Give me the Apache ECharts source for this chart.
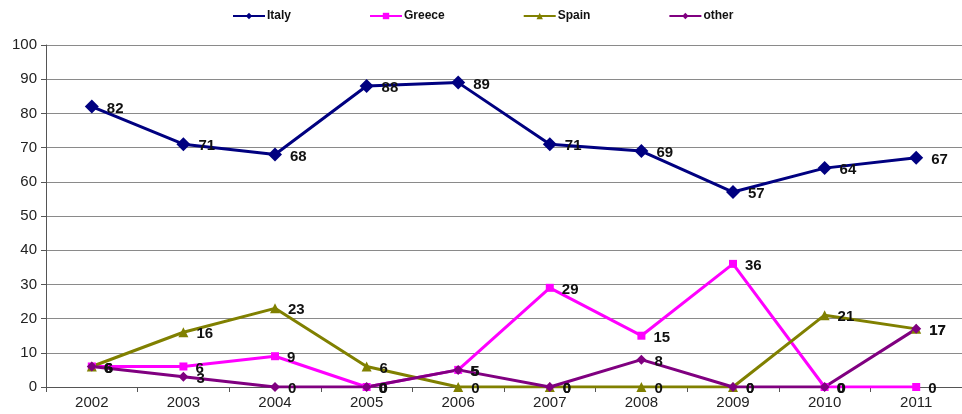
<!DOCTYPE html>
<html>
<head>
<meta charset="utf-8">
<script src="https://cdn.jsdelivr.net/npm/echarts@6/dist/echarts.min.js"></script>
<style>
  html, body { margin: 0; padding: 0; background: #fff; }
  #chart { width: 962px; height: 414px; }
</style>
</head>
<body>
<div id="chart"></div>
<script>
// Years on the category axis
const years = ['2002', '2003', '2004', '2005', '2006', '2007', '2008', '2009', '2010', '2011'];

// Share per country (%)
const italy  = [82, 71, 68, 88, 89, 71, 69, 57, 64, 67];
const greece = [6, 6, 9, 0, 5, 29, 15, 36, 0, 0];
const spain  = [6, 16, 23, 6, 0, 0, 0, 0, 21, 17];
const other  = [6, 3, 0, 0, 5, 0, 8, 0, 0, 17];

// Value axis ticks
const yTicks = [0, 10, 20, 30, 40, 50, 60, 70, 80, 90, 100];

const FONT = '"Liberation Sans", Arial, sans-serif';

function lineSeries(name, data, color, symbol, size, width) {
  return {
    name: name,
    type: 'line',
    data: data,
    symbol: symbol,
    symbolSize: size,
    lineStyle: { color: color, width: width },
    itemStyle: { color: color },
    label: {
      show: true,
      position: 'right',
      distance: 8,
      offset: [0, 2],
      color: '#111',
      fontFamily: FONT,
      fontWeight: 'bold',
      fontSize: 15
    },
    emphasis: { disabled: true },
    animation: false
  };
}

const chart = echarts.init(document.getElementById('chart'), null, { renderer: 'canvas' });
chart.setOption({
  backgroundColor: '#ffffff',
  animation: false,
  legend: {
    top: 5,
    left: 227,
    itemGap: 78,
    itemWidth: 32,
    itemHeight: 8,
    textStyle: { fontFamily: FONT, fontSize: 12, fontWeight: 'bold', color: '#111', padding: [0, 0, 0, -3] },
    data: [
      { name: 'Italy' },
      { name: 'Greece' },
      { name: 'Spain' },
      { name: 'other' }
    ]
  },
  grid: { left: 46, right: 0, top: 45, bottom: 27, containLabel: false },
  xAxis: {
    type: 'category',
    data: years,
    boundaryGap: true,
    axisLine: { lineStyle: { color: '#555', width: 1 } },
    axisTick: { show: true, length: 5, lineStyle: { color: '#555' } },
    axisLabel: { color: '#222', fontFamily: FONT, fontSize: 15, margin: 8 }
  },
  yAxis: {
    type: 'value',
    min: yTicks[0],
    max: yTicks[yTicks.length - 1],
    interval: 10,
    axisLine: { show: true, lineStyle: { color: '#555', width: 1 } },
    axisTick: { show: true, length: 5, lineStyle: { color: '#555' } },
    axisLabel: { color: '#222', fontFamily: FONT, fontSize: 15, margin: 9 },
    splitLine: { show: true, lineStyle: { color: '#8a8a8a', width: 1 } }
  },
  series: [
    lineSeries('Italy', italy, '#000080', 'diamond', 14, 3),
    lineSeries('Greece', greece, '#ff00ff', 'rect', 8, 3),
    lineSeries('Spain', spain, '#808000', 'triangle', 10, 3),
    lineSeries('other', other, '#800080', 'diamond', 10, 3)
  ]
});
</script>
</body>
</html>
